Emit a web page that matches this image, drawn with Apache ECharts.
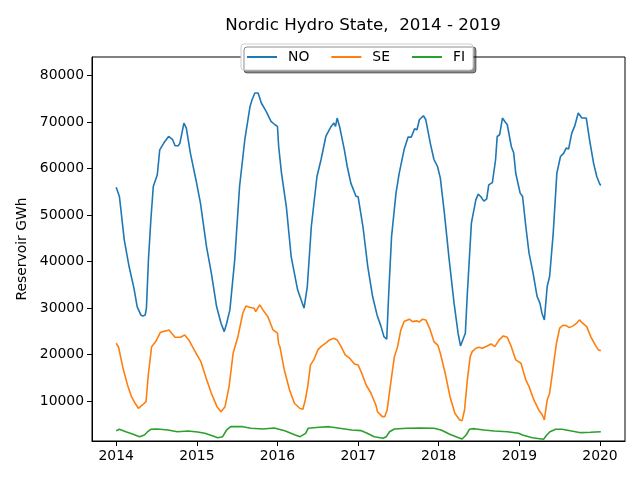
<!DOCTYPE html>
<html>

<head>
    <meta charset='UTF-8'>
    <script src="https://cdn.jsdelivr.net/npm/echarts@6.0.0/dist/echarts.min.js"></script>
    <style>
        html, body {
            margin: 0;
            padding: 0;
            background: #ffffff;
        }

        #chart {
            width: 640px;
            height: 480px;
        }
    </style>
    <title>Nordic Hydro State</title>
</head>

<body>
    <div id="chart"></div>

    <script>
        // reservoir levels in GWh as [year, value]
        var noData = [
            [2014.00, 56000], [2014.04, 54000], [2014.10, 44700], [2014.16, 38950], [2014.22, 34300],
            [2014.26, 30350], [2014.305, 28550], [2014.33, 28300], [2014.36, 28550], [2014.375, 30000],
            [2014.40, 40400], [2014.43, 49000], [2014.46, 56150], [2014.51, 58670], [2014.54, 64040],
            [2014.59, 65480], [2014.65, 66900], [2014.70, 66200], [2014.73, 64900], [2014.77, 64900],
            [2014.79, 65480], [2014.81, 65100], [2014.84, 69780], [2014.87, 68700], [2014.92, 63330],
            [2014.99, 57500], [2015.045, 52580], [2015.12, 43250], [2015.18, 37530], [2015.245, 30350],
            [2015.30, 26770], [2015.34, 24970], [2015.37, 26770], [2015.41, 29630], [2015.47, 40390],
            [2015.53, 56150], [2015.595, 66200], [2015.66, 73350], [2015.685, 74800], [2015.72, 76240],
            [2015.76, 76240], [2015.80, 74090], [2015.86, 72290], [2015.92, 70130], [2015.97, 69420],
            [2016.00, 69060], [2016.015, 64750], [2016.05, 59030], [2016.11, 51850], [2016.17, 41100],
            [2016.25, 33940], [2016.33, 30000], [2016.37, 34650], [2016.42, 47550], [2016.49, 58300],
            [2016.54, 61900], [2016.60, 66900], [2016.665, 69060], [2016.70, 69780], [2016.72, 69060],
            [2016.74, 70860], [2016.77, 69060], [2016.83, 64040], [2016.865, 60450], [2016.91, 56880],
            [2016.975, 54000], [2017.00, 54000], [2017.06, 47550], [2017.12, 38950], [2017.18, 32500],
            [2017.235, 28560], [2017.285, 26040], [2017.32, 23900], [2017.355, 23330], [2017.38, 33220],
            [2017.415, 45400], [2017.47, 54730], [2017.51, 59030], [2017.57, 64040], [2017.62, 66770],
            [2017.66, 66770], [2017.70, 68560], [2017.73, 68340], [2017.76, 70490], [2017.81, 71350],
            [2017.84, 70490], [2017.895, 65480], [2017.94, 62000], [2017.985, 60450], [2018.02, 57950],
            [2018.07, 50430], [2018.13, 40390], [2018.19, 31080], [2018.24, 24620], [2018.27, 21890],
            [2018.33, 24620], [2018.355, 33220], [2018.405, 48280], [2018.46, 53290], [2018.49, 54500],
            [2018.52, 54000], [2018.56, 53000], [2018.595, 53500], [2018.62, 56500], [2018.665, 57000],
            [2018.705, 61900], [2018.725, 66900], [2018.755, 67270], [2018.79, 70860], [2018.82, 70130],
            [2018.85, 69420], [2018.90, 64750], [2018.93, 63330], [2018.955, 59000], [2019.01, 54730],
            [2019.04, 54000], [2019.08, 47550], [2019.12, 41830], [2019.17, 37530], [2019.22, 32500],
            [2019.255, 31080], [2019.28, 28920], [2019.31, 27480], [2019.345, 34650], [2019.375, 36800],
            [2019.42, 46130], [2019.465, 59030], [2019.51, 62600], [2019.55, 63330], [2019.58, 64400],
            [2019.61, 64190], [2019.65, 67630], [2019.685, 69060], [2019.73, 71930], [2019.775, 70860],
            [2019.83, 70860], [2019.87, 66200], [2019.92, 61180], [2019.96, 58300], [2019.995, 56730],
            [2020.01, 56370]
        ];

        var seData = [
            [2014.00, 22470], [2014.03, 21610], [2014.08, 17440], [2014.14, 13500], [2014.19, 10990],
            [2014.235, 9570], [2014.275, 8490], [2014.325, 9200], [2014.37, 9910], [2014.40, 16020],
            [2014.44, 21740], [2014.49, 22820], [2014.55, 24840], [2014.615, 25120], [2014.655, 25330],
            [2014.73, 23760], [2014.80, 23760], [2014.85, 24260], [2014.90, 23180], [2014.99, 20320],
            [2015.05, 18520], [2015.115, 15000], [2015.18, 11720], [2015.25, 8840], [2015.30, 7760],
            [2015.35, 8840], [2015.40, 13140], [2015.45, 20320], [2015.51, 23900], [2015.57, 28920],
            [2015.61, 30490], [2015.655, 30210], [2015.71, 30000], [2015.73, 29270], [2015.78, 30710],
            [2015.82, 29630], [2015.88, 28190], [2015.945, 25330], [2016.00, 24620], [2016.015, 22300],
            [2016.03, 21740], [2016.085, 16730], [2016.15, 12430], [2016.21, 9570], [2016.275, 8490],
            [2016.315, 8280], [2016.345, 10280], [2016.375, 13140], [2016.41, 17810], [2016.45, 18880],
            [2016.50, 21030], [2016.54, 21740], [2016.605, 22600], [2016.645, 23180], [2016.70, 23550],
            [2016.74, 23180], [2016.79, 21740], [2016.84, 19960], [2016.895, 19250], [2016.955, 18020],
            [2017.00, 17810], [2017.045, 16020], [2017.10, 13500], [2017.16, 11720], [2017.22, 9200],
            [2017.24, 7760], [2017.30, 6690], [2017.33, 6690], [2017.36, 8130], [2017.41, 14580],
            [2017.45, 19590], [2017.49, 21740], [2017.53, 25330], [2017.57, 27120], [2017.635, 27630],
            [2017.675, 27120], [2017.73, 27270], [2017.76, 27050], [2017.80, 27630], [2017.84, 27480],
            [2017.895, 25330], [2017.94, 22820], [2017.99, 22000], [2018.02, 20320], [2018.08, 16020],
            [2018.14, 10990], [2018.20, 7420], [2018.26, 5980], [2018.29, 5830], [2018.32, 8130],
            [2018.355, 14580], [2018.39, 19590], [2018.415, 20670], [2018.46, 21400], [2018.50, 21610],
            [2018.54, 21400], [2018.60, 21890], [2018.65, 22320], [2018.695, 21740], [2018.75, 23180],
            [2018.80, 24040], [2018.85, 23760], [2018.90, 21740], [2018.955, 18880], [2018.975, 19250],
            [2019.02, 18170], [2019.08, 14580], [2019.12, 13140], [2019.18, 10280], [2019.24, 8130],
            [2019.285, 7050], [2019.31, 5980], [2019.345, 10280], [2019.375, 11720], [2019.415, 16730],
            [2019.46, 22470], [2019.50, 25700], [2019.54, 26340], [2019.58, 26260], [2019.62, 25830],
            [2019.67, 26260], [2019.71, 26770], [2019.745, 27480], [2019.785, 26770], [2019.835, 26040],
            [2019.885, 23900], [2019.94, 22110], [2019.98, 21030], [2020.01, 20880]
        ];

        var fiData = [
            [2014.00, 3680], [2014.04, 3980], [2014.12, 3460], [2014.21, 2900], [2014.29, 2390],
            [2014.35, 2750], [2014.39, 3460], [2014.43, 3980], [2014.51, 4040], [2014.64, 3830],
            [2014.76, 3460], [2014.89, 3610], [2015.01, 3400], [2015.10, 3110], [2015.20, 2540],
            [2015.26, 2170], [2015.32, 2390], [2015.37, 3830], [2015.42, 4540], [2015.57, 4540],
            [2015.67, 4190], [2015.82, 4040], [2015.96, 4260], [2016.09, 3680], [2016.22, 2750],
            [2016.28, 2390], [2016.35, 3110], [2016.38, 4190], [2016.52, 4410], [2016.64, 4540],
            [2016.75, 4260], [2016.92, 3830], [2017.04, 3680], [2017.10, 3250], [2017.20, 2390],
            [2017.31, 2040], [2017.35, 2390], [2017.39, 3460], [2017.45, 4040], [2017.61, 4190],
            [2017.78, 4260], [2017.94, 4190], [2018.03, 3830], [2018.13, 2970], [2018.23, 2260],
            [2018.29, 1890], [2018.34, 2750], [2018.38, 3980], [2018.44, 4110], [2018.56, 3830],
            [2018.69, 3610], [2018.85, 3460], [2018.99, 3110], [2019.04, 2750], [2019.16, 2170],
            [2019.30, 1830], [2019.34, 2750], [2019.38, 3460], [2019.45, 3980], [2019.53, 3980],
            [2019.63, 3680], [2019.76, 3250], [2019.88, 3330], [2020.01, 3460]
        ];

        var yearTicks = [2014, 2015, 2016, 2017, 2018, 2019, 2020];
        var gwhTicks = [10000, 20000, 30000, 40000, 50000, 60000, 70000, 80000];

        var font = 'DejaVu Sans';

        var myChart = echarts.init(document.getElementById('chart'), null, {
            renderer: 'canvas'
        });

        function lineSeries(name, data, color) {
            return {
                name: name,
                type: 'line',
                data: data,
                showSymbol: false,
                symbol: 'none',
                animation: false,
                lineStyle: {
                    color: color,
                    width: 1.6
                },
                itemStyle: {
                    color: color
                }
            };
        }

        var option = {
            backgroundColor: '#ffffff',
            animation: false,
            title: {
                text: 'Nordic Hydro State,  2014 - 2019',
                left: 358,
                textAlign: 'center',
                top: 12,
                textStyle: {
                    fontFamily: font,
                    fontSize: 16.7,
                    fontWeight: 'normal',
                    color: '#000000'
                }
            },
            legend: {
                left: 241,
                top: 44,
                icon: 'rect',
                itemWidth: 30,
                itemHeight: 2,
                itemGap: 22,
                padding: [6, 8, 6, 6],
                backgroundColor: '#ffffff',
                borderColor: '#cccccc',
                borderWidth: 1,
                borderRadius: 3,
                shadowColor: 'rgba(0,0,0,0.45)',
                shadowOffsetX: 3,
                shadowOffsetY: 3,
                shadowBlur: 0,
                textStyle: {
                    fontFamily: font,
                    fontSize: 13.9,
                    color: '#000000',
                    padding: [0, 0, 0, 6]
                },
                data: ['NO', 'SE', 'FI']
            },
            grid: {
                left: 92,
                right: 15,
                top: 57,
                bottom: 39,
                show: true,
                borderColor: '#000000',
                borderWidth: 1,
                backgroundColor: '#ffffff',
                containLabel: false
            },
            xAxis: {
                type: 'value',
                min: 2013.70,
                max: 2020.31,
                splitLine: { show: false },
                axisLine: { lineStyle: { color: '#000000', width: 1 } },
                axisTick: {
                    length: 5,
                    lineStyle: { color: '#000000' },
                    customValues: yearTicks
                },
                axisLabel: {
                    fontFamily: font,
                    fontSize: 13.9,
                    color: '#000000',
                    margin: 8,
                    customValues: yearTicks,
                    formatter: function (v) { return String(v); }
                }
            },
            yAxis: {
                type: 'value',
                min: 1460,
                max: 83980,
                name: 'Reservoir GWh',
                nameLocation: 'middle',
                nameGap: 62,
                nameTextStyle: {
                    fontFamily: font,
                    fontSize: 13.9,
                    color: '#000000'
                },
                splitLine: { show: false },
                axisLine: { show: true, lineStyle: { color: '#000000', width: 1 } },
                axisTick: {
                    show: true,
                    length: 5,
                    lineStyle: { color: '#000000' },
                    customValues: gwhTicks
                },
                axisLabel: {
                    fontFamily: font,
                    fontSize: 13.9,
                    color: '#000000',
                    margin: 8,
                    customValues: gwhTicks,
                    formatter: function (v) { return String(v); }
                }
            },
            series: [
                lineSeries('NO', noData, '#1f77b4'),
                lineSeries('SE', seData, '#ff7f0e'),
                lineSeries('FI', fiData, '#2ca02c')
            ]
        };

        myChart.setOption(option);
        window.addEventListener('resize', myChart.resize);
    </script>
</body>

</html>
